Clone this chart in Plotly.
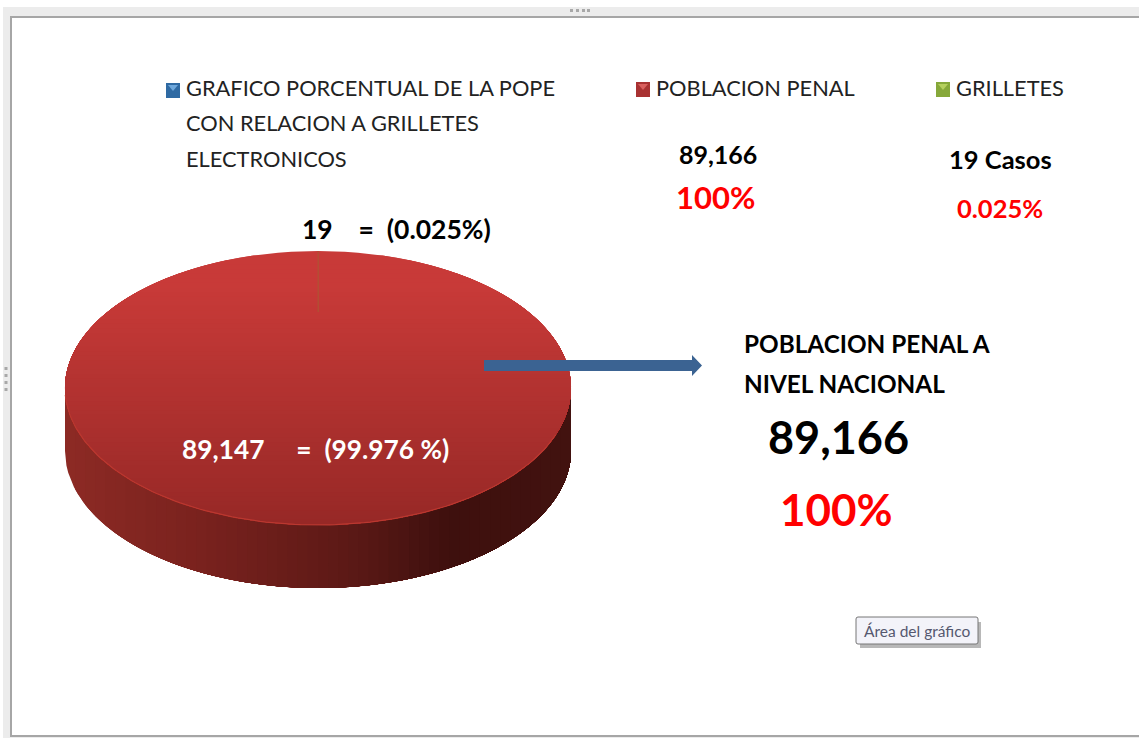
import numpy as np
import plotly.graph_objects as go

# ---- data ----
categories = ["POBLACION PENAL", "GRILLETES"]
slice_values = [89147, 19]
slice_labels = ["89,147     =  (99.976 %)", "19    =  (0.025%)"]
legend_title = ["GRAFICO PORCENTUAL DE LA POPE", "CON RELACION A GRILLETES", "ELECTRONICOS"]
total_label = "89,166"
grilletes_label = "19 Casos"
grilletes_pct = "0.025%"
total_pct = "100%"
side_title = ["POBLACION PENAL A", "NIVEL NACIONAL"]

FONT = "Lato"
cx, cy, rx, ry, depth = 318.0, 388.0, 253.0, 137.0, 63.0


def mix(a, b, t):
    c = [round(a[i] + (b[i] - a[i]) * t) for i in range(3)]
    return f"rgb({c[0]},{c[1]},{c[2]})"


fig = go.Figure()

side_stops = [(0.0, (140, 42, 36)), (0.25, (122, 34, 30)), (0.55, (92, 25, 22)),
              (0.75, (62, 16, 14)), (1.0, (66, 18, 15))]


def side_color(t):
    for (t0, c0), (t1, c1) in zip(side_stops, side_stops[1:]):
        if t <= t1:
            return mix(c0, c1, (t - t0) / (t1 - t0))
    return mix(side_stops[-1][1], side_stops[-1][1], 0)


for t in np.linspace(0, 0.98, 50):
    ang = np.linspace(np.arccos(2 * t - 1), 0, 60)
    xs = cx + rx * np.cos(ang)
    top = cy + ry * np.sin(ang)
    bot = top + depth
    fig.add_trace(go.Scatter(
        x=np.r_[xs, xs[::-1]], y=np.r_[top, bot[::-1]], mode="lines", fill="toself",
        fillcolor=side_color(t), line=dict(width=0), hoverinfo="skip", showlegend=False))

total = sum(slice_values)
sliver = 2 * np.pi * slice_values[1] / total
for t in np.linspace(0, 0.98, 60):
    y0 = -1 + 2 * t
    a0 = np.arcsin(y0)
    ang = np.linspace(a0, np.pi - a0, 120)
    g = min(1.0, max(0.0, (t - 0.12) / 0.88))
    fig.add_trace(go.Scatter(
        x=cx + rx * np.cos(ang), y=cy + ry * np.sin(ang), mode="lines", fill="toself",
        fillcolor=mix((200, 58, 56), (150, 40, 38), g), line=dict(width=0),
        hoverinfo="skip", showlegend=False, name=categories[0]))

ang = np.linspace(0.35, np.pi - 0.05, 120)
fig.add_trace(go.Scatter(x=cx + rx * np.cos(ang), y=cy + ry * np.sin(ang), mode="lines",
                         line=dict(color="rgb(186,56,48)", width=1.2),
                         hoverinfo="skip", showlegend=False))

sx = cx + rx * np.sin(sliver / 2)
fig.add_trace(go.Scatter(x=[sx, sx], y=[cy - ry, 312], mode="lines",
                         line=dict(color="rgb(170,88,50)", width=1),
                         hoverinfo="skip", showlegend=False, name=categories[1]))

shapes = [
    dict(type="rect", x0=3, x1=1139, y0=7, y1=738, fillcolor="#ececec", line=dict(width=0), layer="below"),
    dict(type="rect", x0=11, x1=1141, y0=17, y1=736, fillcolor="#ffffff",
         line=dict(color="#a6a6a6", width=2), layer="below"),
    dict(type="path",
         path="M484 360 L692 360 L692 355 L702 365.5 L692 376 L692 371 L484 371 Z",
         fillcolor="#3b6392", line=dict(width=0)),
]
# Resize handles on the chart frame
for dy in (367, 374, 381, 388):
    shapes.append(dict(type="rect", x0=4.5, x1=7.5, y0=dy, y1=dy + 3, fillcolor="#a8a8a8",
                       line=dict(width=0), layer="below"))
for dx in (570, 576, 582, 587):
    shapes.append(dict(type="rect", x0=dx, x1=dx + 3, y0=9, y1=12, fillcolor="#a8a8a8",
                       line=dict(width=0), layer="below"))


def key(x, y, dark, light):
    return [
        dict(type="rect", x0=x, x1=x + 14, y0=y, y1=y + 15, fillcolor=dark, line=dict(width=0)),
        dict(type="path", path=f"M{x+2} {y+2} L{x+12} {y+2} L{x+7} {y+8} Z", fillcolor=light, line=dict(width=0)),
    ]


shapes += key(166, 83, "#2f6aa3", "#6fa8dc")
shapes += key(636, 82, "#a83232", "#d9605e")
shapes += key(936, 82, "#86a83a", "#b5d05e")

shapes += [
    dict(type="rect", x0=860, x1=981, y0=622, y1=648, fillcolor="#a0a0a0",
         line=dict(width=0), opacity=0.75),
    dict(type="path",
         path="M858 617 L976 617 Q978 617 978 619 L978 642 Q978 644 976 644 L858 644 "
              "Q856 644 856 642 L856 619 Q856 617 858 617 Z",
         fillcolor="#f3f3f9", line=dict(color="#767676", width=1)),
]

annotations = []


def text(x, y, s, size, color="#111111", bold=False, anchor="left"):
    annotations.append(dict(
        x=x, y=y, xref="x", yref="y", text=f"<b>{s}</b>" if bold else s, showarrow=False,
        xanchor=anchor, yanchor="middle", align="left",
        font=dict(family=FONT, size=size, color=color)))


for yy, line in zip([87, 122, 158], legend_title):
    text(184, yy, line, 21.8, "#222222")
text(654, 87, categories[0], 21.8, "#222222")
text(954, 87, categories[1], 21.8, "#222222")
text(718, 154, total_label, 25, "#000000", True, "center")
text(715, 197, total_pct, 31, "#ff0000", True, "center")
text(1000, 159, grilletes_label, 25.5, "#000000", True, "center")
text(1000, 208, grilletes_pct, 25.5, "#ff0000", True, "center")
text(396, 229, slice_labels[1].replace(" ", "&nbsp;"), 26.5, "#000000", True, "center")
text(315, 449, slice_labels[0].replace(" ", "&nbsp;"), 26.3, "#ffffff", True, "center")
text(742, 343, side_title[0], 24.3, "#000000", True)
text(742, 383, side_title[1], 24.3, "#000000", True)
text(838, 437, total_label, 45, "#000000", True, "center")
text(836, 509, total_pct, 44, "#ff0000", True, "center")
text(917, 631, "Área del gráfico", 15.5, "#55586f", False, "center")

fig.update_layout(
    width=1139, height=740, margin=dict(l=0, r=0, t=0, b=0),
    paper_bgcolor="#ffffff", plot_bgcolor="#ffffff", showlegend=False, hovermode=False,
    xaxis=dict(range=[0, 1139], visible=False, fixedrange=True),
    yaxis=dict(range=[740, 0], visible=False, fixedrange=True),
    shapes=shapes, annotations=annotations,
)
fig.write_html("out.html", config=dict(displayModeBar=False),
               post_script="document.body.style.margin='0';document.body.style.overflow='hidden';")
